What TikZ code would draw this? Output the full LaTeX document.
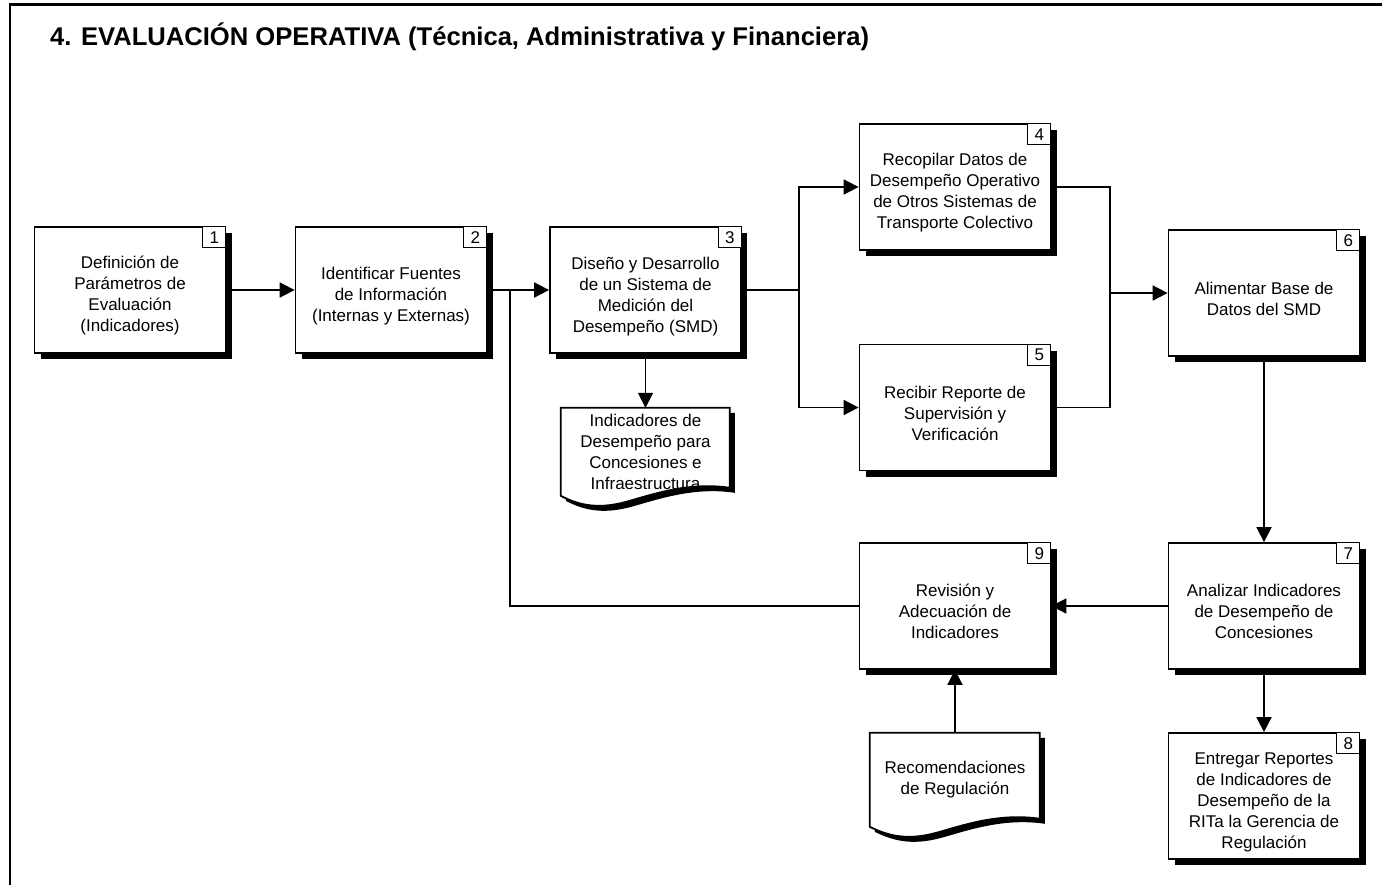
\documentclass[tikz,border=0pt]{standalone}
\usepackage{fontspec}
\setmainfont{Liberation Sans}
\usetikzlibrary{arrows.meta,positioning,shadows,backgrounds}
\definecolor{ink}{RGB}{0,0,0}
\newcommand{\boxfont}{\fontsize{17}{21}\selectfont}
\tikzset{
  proc/.style={draw=ink,line width=1.8pt,fill=white,minimum width=191pt,minimum height=126pt,
    inner sep=2pt,align=center,font=\boxfont,
    general shadow={fill=ink,shadow xshift=6pt,shadow yshift=-6pt}},
  numtag/.style={draw=ink,line width=1.2pt,fill=white,minimum width=23pt,minimum height=21pt,
    inner sep=0pt,font=\boxfont,anchor=north east},
  docu/.style={minimum width=170pt,align=center,font=\boxfont,inner sep=0pt},
  docline/.style={draw=ink,line width=1.8pt,fill=white,
    general shadow={fill=ink,shadow xshift=5pt,shadow yshift=-5pt}},
  ln/.style={line width=1.8pt,ink},
  arr/.style={ln,-{Triangle[length=15pt,width=15pt]}},
  frame/.style={line width=2.5pt,ink},
  ttl/.style={font=\fontsize{25.6}{30}\selectfont\bfseries,anchor=base west,inner sep=0pt},
}
% document outline: node, width, depth of left side
\newcommand{\docwave}[3]{%
  \begin{scope}[on background layer,shift={(#1.north west)}]
    \path[docline] (0,0) -- (#2,0) -- (#2,#3-8)
      .. controls (#2-40,#3-14) and (#2-75,#3-2) .. (#2-100,#3+5)
      .. controls (#2-130,#3+14) and (#2-150,#3+10) .. (0,#3) -- cycle;
  \end{scope}}

\begin{document}
\begin{tikzpicture}[x=1pt,y=-1pt]
\useasboundingbox (0,0) rectangle (1382,884);
\draw[frame] (10,900) -- (10,4.5) -- (1400,4.5);
\node[ttl] (title) at (50,45) {4. EVALUACIÓN OPERATIVA (Técnica, Administrativa y Financiera)};

% process boxes (leading \\ drops the text a little, as in the source)
\node[proc] (b1) at (130,290) {\\[3pt]Definición de\\Parámetros de\\Evaluación\\(Indicadores)};
\node[proc] (b2) at (391,290) {\\[3pt]Identificar Fuentes\\de Información\\(Internas y Externas)};
\node[proc] (b3) at (645.5,290) {\\[5pt]Diseño y Desarrollo\\de un Sistema de\\Medición del\\Desempeño (SMD)};
\node[proc] (b4) at (955,187) {\\[3pt]Recopilar Datos de\\Desempeño Operativo\\de Otros Sistemas de\\Transporte Colectivo};
\node[proc] (b5) at (955,407.5) {\\[3pt]Recibir Reporte de\\Supervisión y\\Verificación};
\node[proc] (b6) at (1264,293) {\\[3pt]Alimentar Base de\\Datos del SMD};
\node[proc] (b7) at (1264,606) {\\[3pt]Analizar Indicadores\\de Desempeño de\\Concesiones};
\node[proc] (b8) at (1264,796) {\\[3pt]Entregar Reportes\\de Indicadores de\\Desempeño de la\\RITa la Gerencia de\\Regulación};
\node[proc] (b9) at (955,606) {\\[3pt]Revisión y\\Adecuación de\\Indicadores};
\foreach \i in {1,...,9}{
  \node[numtag] (n\i) at (b\i.north east) {\i};
}

% documents
\node[docu,minimum width=169pt,minimum height=88pt] (d1) at (645.5,452) {Indicadores de\\Desempeño para\\Concesiones e\\Infraestructura};
\node[docu,minimum height=94pt] (d2) at (955,780) {Recomendaciones\\de Regulación};
\docwave{d1}{169}{88}
\docwave{d2}{170}{94}

% connectors
\coordinate (j1) at (510,290);
\coordinate (s1) at (799,290);
\coordinate (m1) at (1110,293);
\draw[arr] (b1) -- (b2);
\draw[arr] (b2) -- (b3);
\draw[ln] (b9.west) -| (j1);
\draw[ln] (b3) -- (s1);
\draw[arr] (s1) |- (b4);
\draw[arr] (s1) |- (b5);
\draw[ln] (b4) -| (m1);
\draw[ln] (b5) -| (m1);
\draw[arr] (m1) -- (b6);
\draw[arr] (b6) -- (b7);
\draw[arr] (b7) -- (b9);
\draw[arr] (b7) -- (b8);
\draw[arr] (b3) -- (d1);
\draw[arr] (d2) -- (b9);
\end{tikzpicture}
\end{document}
